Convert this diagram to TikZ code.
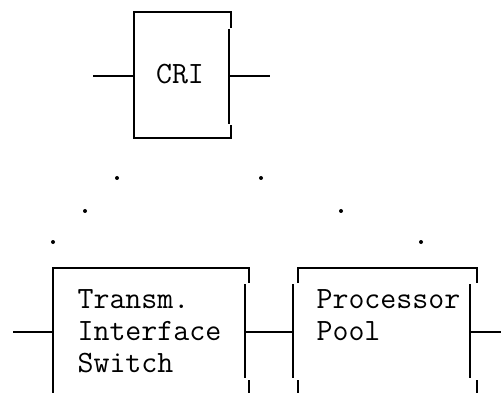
\documentclass[tikz,border=0pt]{standalone}
\usepackage{fontspec}
\begin{document}
\begin{tikzpicture}[x=1pt,y=-1pt,line width=1.2pt,
    txt/.style={font=\ttfamily\fontsize{31}{32}\selectfont,inner sep=0pt,align=left,anchor=base west}]
    \useasboundingbox (0,0) rectangle (501,393);

    % 文字
    \node[txt,anchor=base] (cri) at (180,84) {CRI};
    \node[txt] (tis) at (77,372) {Transm.\\Interface\\Switch};
    \node[txt] (pool) at (316,340) {Processor\\Pool};

    % CRI 框
    \draw (231,28) -- (231,12) -- (134,12) -- (134,138) -- (231,138) -- (231,125);
    \draw (229,29) -- (229,124);

    % Transm. Interface Switch 框
    \draw (249,283) -- (249,268) -- (53,268) -- (53,393);
    \draw (245,284) -- (245,378);
    \draw (249,380) -- (249,393);

    % Processor Pool 框
    \draw (298,283) -- (298,268) -- (477,268) -- (477,283);
    \draw (293,284) -- (293,378);
    \draw (470,284) -- (470,378);
    \draw (298,380) -- (298,393);
    \draw (477,380) -- (477,393);

    % 连接点
    \coordinate (criIn) at (93,76);
    \coordinate (criW) at (134,76);
    \coordinate (criE) at (229,76);
    \coordinate (criOut) at (270,76);
    \coordinate (tisIn) at (13,332);
    \coordinate (tisW) at (53,332);
    \coordinate (tisE) at (245,332);
    \coordinate (poolW) at (293,332);
    \coordinate (poolE) at (470,332);
    \coordinate (poolOut) at (501,332);

    % 连线
    \draw (criIn) -- (criW);
    \draw (criE) -- (criOut);
    \draw (tisIn) -- (tisW);
    \draw (tisE) -- (poolW);
    \draw (poolE) -- (poolOut);

    % 点线
    \foreach \x/\y in {117/178,85/211,53/242,261/178,341/211,421/242}
        \fill (\x,\y) circle (2);
\end{tikzpicture}
\end{document}
